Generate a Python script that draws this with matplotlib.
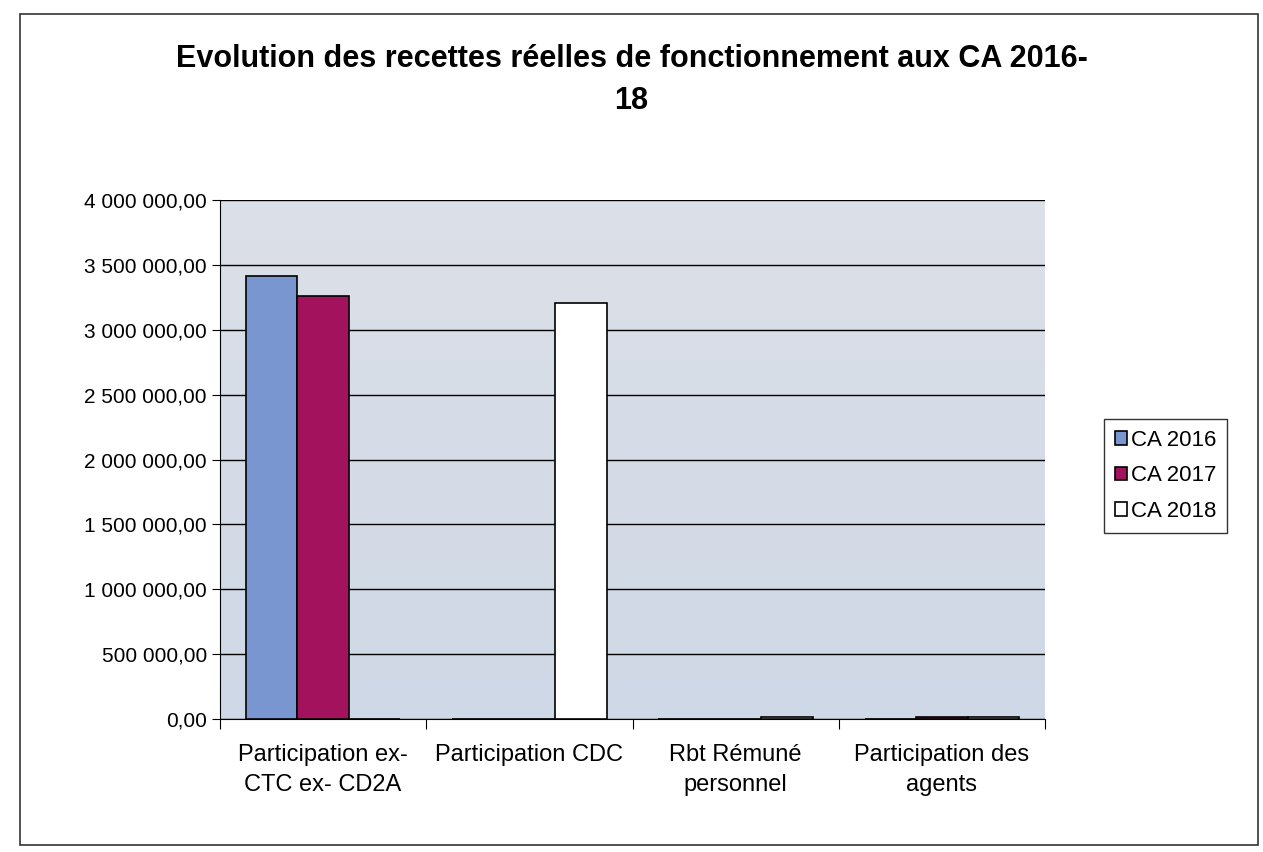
import numpy as np
import matplotlib.pyplot as plt
from matplotlib.patches import Rectangle
from matplotlib.colors import LinearSegmentedColormap

plt.rcParams['font.family'] = ['Liberation Sans', 'DejaVu Sans']

# data
categories = ['Participation ex-\nCTC ex- CD2A', 'Participation CDC', 'Rbt Rémuné\npersonnel', 'Participation des\nagents']
series = ['CA 2016', 'CA 2017', 'CA 2018']
ca2016 = [3415000, 0, 0, 0]
ca2017 = [3260000, 0, 0, 15000]
ca2018 = [0, 3205000, 12000, 18000]
colors = ['#7a96d0', '#a3125c', '#ffffff']

fig = plt.figure(figsize=(12.63, 8.52), dpi=100)
# outer chart border
fig.patches.append(Rectangle((0.016, 0.008), 0.98, 0.975, transform=fig.transFigure,
                             fill=False, edgecolor='#333333', linewidth=1.2))

ax = fig.add_axes([220 / 1263, 1 - 719 / 852, 825 / 1263, 519 / 852])

# light gradient background of the plot area
grad = np.linspace(0, 1, 256).reshape(-1, 1)
cmap = LinearSegmentedColormap.from_list('bg', ['#cfd8e6', '#dce0e8'])
ax.imshow(grad, aspect='auto', cmap=cmap, origin='lower',
          extent=[-0.5, 3.5, 0, 4000000], zorder=0)

x = np.arange(len(categories))
w = 0.25
for i, (vals, lab, c) in enumerate(zip([ca2016, ca2017, ca2018], series, colors)):
    ax.bar(x + (i - 1) * w, vals, w, color=c, edgecolor='black', linewidth=1.2,
           label=lab, zorder=3)

ax.set_xlim(-0.5, 3.5)
ax.set_ylim(0, 4000000)
ax.set_yticks(np.arange(0, 4000001, 500000))
ax.yaxis.set_major_formatter(plt.FuncFormatter(
    lambda v, loc: '{:,.2f}'.format(v).replace(',', ' ').replace('.', ',')))
ax.grid(axis='y', color='black', linewidth=1.0, zorder=1)
ax.set_xticks(np.arange(-0.5, 4, 1), minor=False)
ax.set_xticklabels([])
ax.set_xticks(x, minor=True)
ax.set_xticklabels(categories, minor=True, fontsize=17, linespacing=1.45)
ax.tick_params(axis='x', which='minor', length=0, pad=18)
ax.tick_params(axis='x', which='major', length=7, color='black')
ax.tick_params(axis='y', labelsize=15, length=6)
for s in ['top', 'right']:
    ax.spines[s].set_visible(False)
ax.spines['left'].set_color('black')
ax.spines['bottom'].set_color('black')

fig.text(0.5, 1 - 80 / 852, 'Evolution des recettes réelles de fonctionnement aux CA 2016-\n18',
         ha='center', va='center', fontsize=22, fontweight='bold', linespacing=1.5)

leg = fig.legend(loc='center left', bbox_to_anchor=(1093 / 1263, 1 - 476 / 852),
                 fontsize=16, frameon=True, fancybox=False, edgecolor='black',
                 handlelength=0.55, handleheight=0.55, handletextpad=0.15,
                 labelspacing=0.65, borderpad=0.5)
leg.get_frame().set_linewidth(1.0)

fig.savefig('out.png', dpi=100)
